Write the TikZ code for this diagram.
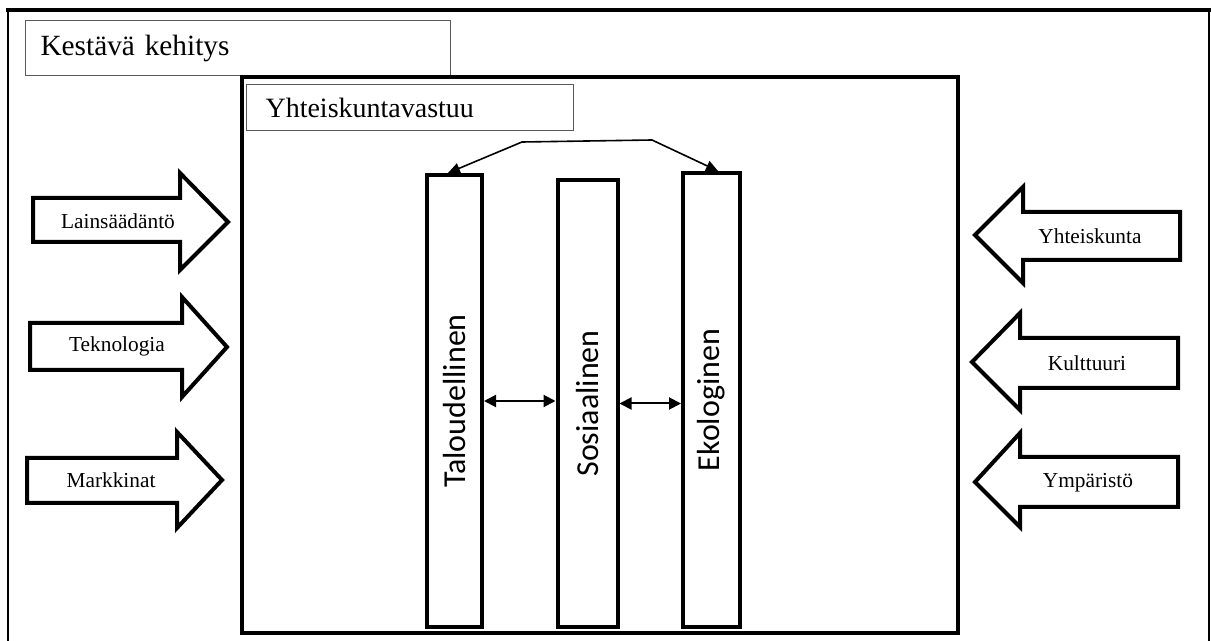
\documentclass[tikz,border=0pt]{standalone}
\usepackage{fontspec}
\usepackage{graphicx}
\setmainfont{Liberation Serif}
\setsansfont{Carlito}
\usepackage{tikz}
\usetikzlibrary{arrows.meta}

\begin{document}
\begin{tikzpicture}[x=0.75pt,y=-0.75pt,
    titlebox/.style={draw=black!65,line width=0.8pt,anchor=north west,align=left,
                     font=\fontsize{22}{26}\selectfont},
    pillar/.style={draw,line width=3pt,font=\sffamily\fontsize{24}{28}\selectfont},
    bigarrow/.style={draw,line width=3pt,fill=white},
    arrowlabel/.style={font=\fontsize{16}{19}\selectfont},
    link/.style={{Triangle[length=9pt,width=9pt]}-{Triangle[length=9pt,width=9pt]},line width=1.5pt},
    toplink/.style={{Triangle[length=9pt,width=8pt]}-{Triangle[length=9pt,width=8pt]},line width=1.2pt}]

  \useasboundingbox (0,0) rectangle (1211,641);

  % outer frame
  \draw[line width=1.2pt] (8,641) -- (8,10.5) -- (1209,10.5) -- (1209,641);
  \draw[line width=3pt] (6,10.5) -- (1211,10.5);

  \node[titlebox,minimum height=41.25pt,inner xsep=11.25pt,text width=296.25pt]
    (kestava) at (25,20) {Kestävä kehitys};

  % inner frame
  \draw[line width=3pt] (242,77) rectangle (958,633);

  \node[titlebox,minimum height=34.5pt,inner xsep=14.25pt,text width=216.75pt,
        font=\fontsize{21}{25}\selectfont]
    (yhteis) at (246,84) {Yhteiskuntavastuu};

  % pillars
  \node[pillar,minimum width=41.25pt,minimum height=339pt] (tal) at (454.5,401)
    {\rotatebox{90}{Taloudellinen}};
  \node[pillar,minimum width=45pt,minimum height=335.25pt] (sos) at (587.5,403.5)
    {\rotatebox{90}{Sosiaalinen}};
  \node[pillar,minimum width=42.75pt,minimum height=340.5pt] (eko) at (711.5,400)
    {\rotatebox{90}{Ekologinen}};

  \draw[link] (tal.east) -- (sos.west |- tal.east);
  \draw[link] (sos.east) -- (eko.west |- sos.east);

  \coordinate (bendl) at (522,142);
  \coordinate (bendr) at (652,140);
  \draw[toplink] ([xshift=-4.9pt]tal.north) -- (bendl) -- (bendr) -- ([xshift=4.9pt]eko.north);

  % arrows in from the left
  \draw[bigarrow] (33,198) -- (180,198) -- (180,173) -- (228,222) -- (180,270) -- (180,242) -- (33,242) -- cycle;
  \node[arrowlabel] (laki) at (118,221) {Lainsäädäntö};
  \draw[bigarrow] (30,323) -- (182,323) -- (182,297) -- (227,347) -- (182,397) -- (182,370) -- (30,370) -- cycle;
  \node[arrowlabel] (tekno) at (117,346) {Teknologia};
  \draw[bigarrow] (27,458) -- (177,458) -- (177,432) -- (222,480) -- (177,528) -- (177,503) -- (27,503) -- cycle;
  \node[arrowlabel] (markk) at (111,480) {Markkinat};

  % arrows in from the right
  \draw[bigarrow] (1180,212) -- (1023,212) -- (1023,187) -- (975,235) -- (1023,283) -- (1023,260) -- (1180,260) -- cycle;
  \node[arrowlabel] (yhtk) at (1090,236) {Yhteiskunta};
  \draw[bigarrow] (1178,338) -- (1020,338) -- (1020,313) -- (972,362) -- (1020,410) -- (1020,388) -- (1178,388) -- cycle;
  \node[arrowlabel] (kult) at (1087,363) {Kulttuuri};
  \draw[bigarrow] (1178,457) -- (1020,457) -- (1020,433) -- (975,482) -- (1020,527) -- (1020,507) -- (1178,507) -- cycle;
  \node[arrowlabel] (ymp) at (1088,483) {Ympäristö};
\end{tikzpicture}
\end{document}
